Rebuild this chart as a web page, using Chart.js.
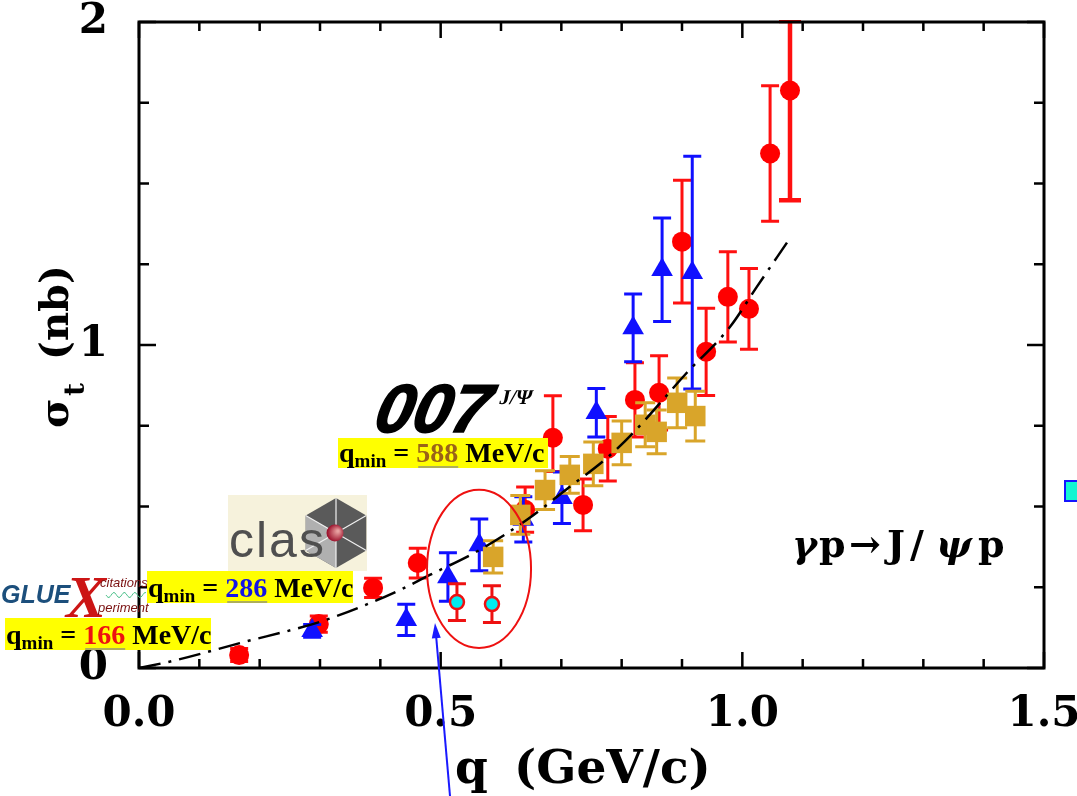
<!DOCTYPE html>
<html>
<head>
<meta charset="utf-8">
<script src="https://cdn.jsdelivr.net/npm/chart.js@4.4.0/dist/chart.umd.min.js"></script>
<style>
  html, body { margin: 0; padding: 0; background: #fff; }
  #wrap { width: 1077px; height: 796px; position: relative; }
</style>
</head>
<body>
<div id="wrap"><canvas id="chart"></canvas></div>
<script>
// values: q in GeV/c, sigma_t in nb

// GlueX (red filled circles)
var gluexQ = [0.166, 0.298, 0.388, 0.462, 0.640, 0.686, 0.736, 0.777, 0.822, 0.862, 0.900, 0.940, 0.976, 1.011, 1.046, 1.079];
var gluexS = [0.040, 0.136, 0.248, 0.325, 0.490, 0.713, 0.505, 0.679, 0.830, 0.852, 1.320, 0.979, 1.149, 1.112, 1.593, 1.788];
var gluexUp = [0.02, 0.025, 0.03, 0.046, 0.07, 0.13, 0.08, 0.10, 0.115, 0.115, 0.19, 0.135, 0.14, 0.125, 0.21, 0.215];
var gluexDn = [0.02, 0.025, 0.03, 0.046, 0.07, 0.105, 0.08, 0.10, 0.115, 0.115, 0.19, 0.135, 0.14, 0.125, 0.21, 0.34];

// CLAS (blue triangles)
var clasQ = [0.287, 0.443, 0.512, 0.564, 0.637, 0.701, 0.758, 0.819, 0.867, 0.917];
var clasS = [0.115, 0.149, 0.282, 0.381, 0.460, 0.527, 0.790, 1.053, 1.233, 1.224];
var clasErr = [0.02, 0.048, 0.075, 0.08, 0.07, 0.08, 0.075, 0.105, 0.16, 0.36];

// 007 (gold squares)
var j007Q = [0.587, 0.632, 0.673, 0.714, 0.753, 0.800, 0.839, 0.858, 0.892, 0.922];
var j007S = [0.344, 0.474, 0.551, 0.598, 0.632, 0.697, 0.753, 0.731, 0.821, 0.780];
var j007Err = [0.05, 0.06, 0.06, 0.057, 0.068, 0.068, 0.068, 0.068, 0.077, 0.077];

// open circles inside the ellipse
var openQ = [0.527, 0.585];
var openS = [0.204, 0.198];
var openErr = [0.057, 0.057];

// dash-dot curve
var fitQ = [0.0, 0.056, 0.167, 0.300, 0.383, 0.433, 0.482, 0.565, 0.643, 0.714, 0.776, 0.819, 0.908, 0.980, 1.024, 1.074];
var fitS = [0.0, 0.022, 0.077, 0.143, 0.201, 0.242, 0.288, 0.366, 0.459, 0.561, 0.651, 0.728, 0.914, 1.057, 1.180, 1.317];

// axes
var xTickVals = [0, 0.5, 1.0, 1.5];
var xTickLabels = ['0.0', '0.5', '1.0', '1.5'];
var yTickVals = [0, 1, 2];
var yTickLabels = ['0', '1', '2'];
var xMinorStep = 0.1;
var yMinorStep = 0.25;

// red ellipse (data units) and arrow
var ellipseC = { q: 0.5636, s: 0.307 };
var ellipseR = { q: 0.0862, s: 0.245 };
var arrowTip = { q: 0.4906, s: 0.139 };
var arrowTail = { q: 0.5155, s: -0.397 };

function pts(xs, ys) {
    return xs.map(function (v, i) { return { x: v, y: ys[i] }; });
}

var serif = '"DejaVu Serif", serif';

var errorBars = {
    id: 'errorBars',
    beforeDatasetDraw: function (chart, args) {
        var ds = chart.data.datasets[args.index];
        if (!ds.errUp) return;
        var xs = chart.scales.x, ys = chart.scales.y, ctx = chart.ctx, a = chart.chartArea;
        ctx.save();
        ctx.beginPath();
        ctx.rect(a.left, a.top - 2, a.right - a.left, a.bottom - a.top + 2);
        ctx.clip();
        ctx.strokeStyle = ds.barColor;
        ds.data.forEach(function (p, i) {
            var px = xs.getPixelForValue(p.x);
            var top = ys.getPixelForValue(p.y + ds.errUp[i]);
            var bot = ys.getPixelForValue(p.y - ds.errDn[i]);
            var heavy = (ds.heavyIndex === i);
            ctx.lineWidth = heavy ? 4.5 : 3;
            var cw = heavy ? 11 : ds.capHalf;
            ctx.beginPath();
            ctx.moveTo(px, top); ctx.lineTo(px, bot);
            ctx.moveTo(px - cw, top); ctx.lineTo(px + cw, top);
            ctx.moveTo(px - cw, bot); ctx.lineTo(px + cw, bot);
            ctx.stroke();
        });
        ctx.restore();
    }
};

function qminLabel(ctx, x, y, w, h, num, numColor) {
    ctx.fillStyle = '#ffff00';
    ctx.fillRect(x, y, w, h);
    var bx = x + 1, by = y + h - 6;
    ctx.textAlign = 'left';
    ctx.textBaseline = 'alphabetic';
    var big = 'bold 28px "Liberation Serif"', small = 'bold 19px "Liberation Serif"';
    ctx.fillStyle = '#000';
    ctx.font = big; ctx.fillText('q', bx, by); bx += ctx.measureText('q').width;
    ctx.font = small; ctx.fillText('min', bx, by + 5); bx += ctx.measureText('min').width;
    ctx.font = big; ctx.fillText(' = ', bx, by); bx += ctx.measureText(' = ').width;
    ctx.fillStyle = 'rgba(120,120,150,0.6)';
    ctx.fillRect(bx + 2, by + 4, ctx.measureText(num).width - 2, 2);
    ctx.fillStyle = numColor;
    ctx.fillText(num, bx, by); bx += ctx.measureText(num).width;
    ctx.fillStyle = '#000';
    ctx.fillText(' MeV/c', bx, by);
}

var decorations = {
    id: 'decorations',
    afterDatasetsDraw: function (chart) {
        var ctx = chart.ctx, a = chart.chartArea, xs = chart.scales.x, ys = chart.scales.y;
        ctx.save();

        // frame with inward ticks on all sides
        ctx.strokeStyle = '#000';
        ctx.lineWidth = 2.5;
        ctx.beginPath();
        for (var i = 0; i <= 15; i++) {
            var v = i * xMinorStep;
            var px = xs.getPixelForValue(v);
            var len = (i % 5 === 0) ? 16 : 9;
            ctx.moveTo(px, a.bottom); ctx.lineTo(px, a.bottom - len);
            ctx.moveTo(px, a.top); ctx.lineTo(px, a.top + len);
        }
        for (var j = 0; j <= 8; j++) {
            var py = ys.getPixelForValue(j * yMinorStep);
            var ylen = (j % 4 === 0) ? 17 : 10;
            ctx.moveTo(a.left, py); ctx.lineTo(a.left + ylen, py);
            ctx.moveTo(a.right, py); ctx.lineTo(a.right - ylen, py);
        }
        ctx.stroke();
        ctx.lineWidth = 3;
        ctx.strokeRect(a.left, a.top, a.right - a.left, a.bottom - a.top);

        // red ellipse
        var ex = xs.getPixelForValue(ellipseC.q), ey = ys.getPixelForValue(ellipseC.s);
        var erx = xs.getPixelForValue(ellipseC.q + ellipseR.q) - ex;
        var ery = ey - ys.getPixelForValue(ellipseC.s + ellipseR.s);
        ctx.strokeStyle = '#ee1111';
        ctx.lineWidth = 2;
        ctx.beginPath();
        ctx.ellipse(ex, ey, erx, ery, 0, 0, Math.PI * 2);
        ctx.stroke();

        // blue arrow
        var tx = xs.getPixelForValue(arrowTip.q), ty = ys.getPixelForValue(arrowTip.s);
        var sx = xs.getPixelForValue(arrowTail.q), sy = ys.getPixelForValue(arrowTail.s);
        var ang = Math.atan2(ty - sy, tx - sx);
        ctx.strokeStyle = '#1a1aff';
        ctx.fillStyle = '#1a1aff';
        ctx.lineWidth = 2;
        ctx.beginPath();
        ctx.moveTo(sx, sy); ctx.lineTo(tx - 10 * Math.cos(ang), ty - 10 * Math.sin(ang));
        ctx.stroke();
        ctx.beginPath();
        ctx.moveTo(tx, ty);
        ctx.lineTo(tx - 15 * Math.cos(ang) + 4.5 * Math.sin(ang), ty - 15 * Math.sin(ang) - 4.5 * Math.cos(ang));
        ctx.lineTo(tx - 15 * Math.cos(ang) - 4.5 * Math.sin(ang), ty - 15 * Math.sin(ang) + 4.5 * Math.cos(ang));
        ctx.closePath();
        ctx.fill();

        // axis titles
        ctx.fillStyle = '#000';
        ctx.textAlign = 'left';
        ctx.textBaseline = 'alphabetic';
        ctx.font = 'bold 47px ' + serif;
        ctx.fillText('q', 455, 783);
        ctx.fillText('(GeV/c)', 514, 783);

        ctx.save();
        ctx.translate(68, 428);
        ctx.rotate(-Math.PI / 2);
        ctx.font = 'bold 40px ' + serif;
        ctx.fillText('\u03c3', 0, 0);
        ctx.font = 'bold 28px ' + serif;
        ctx.fillText('t', 32, 16);
        ctx.font = 'bold 40px ' + serif;
        ctx.fillText('(nb)', 68, 0);
        ctx.restore();

        // reaction, glyph by glyph to match the wide spacing of the original
        var reac = [['\u03b3', 792, true], ['p', 819, false], ['\u2192', 849, false], ['J', 887, false],
                    ['/', 910, false], ['\u03c8', 936, true], ['p', 978, false]];
        reac.forEach(function (g) {
            ctx.font = (g[2] ? 'italic ' : '') + 'bold 38px ' + serif;
            ctx.fillText(g[0], g[1], 557);
        });

        // 007 label
        ctx.save();
        ctx.translate(372, 432);
        ctx.transform(1, 0, -0.22, 1, 0, 0);
        ctx.font = 'italic bold 68px "Liberation Sans"';
        ctx.lineWidth = 1.5;
        ctx.strokeStyle = '#000';
        ctx.fillText('007', 0, 0);
        ctx.strokeText('007', 0, 0);
        ctx.font = 'bold 21px "Liberation Serif"';
        ctx.fillText('J/\u03a8', 120, -28);
        ctx.restore();

        // q_min labels
        qminLabel(ctx, 338, 438, 210, 30, '588', '#9a6418');
        qminLabel(ctx, 147, 571, 206, 32, '286', '#1414e6');
        qminLabel(ctx, 5, 618, 206, 32, '166', '#ee1111');

        // CLAS logo (drawn approximation)
        ctx.fillStyle = '#f6f2dc';
        ctx.fillRect(228, 495, 139, 76);
        var hx = 336, hy = 533, hr = 35;
        ctx.beginPath();
        for (var k = 0; k < 6; k++) {
            var t = -Math.PI / 2 + k * Math.PI / 3;
            if (k === 0) ctx.moveTo(hx + hr * Math.cos(t), hy + hr * Math.sin(t));
            else ctx.lineTo(hx + hr * Math.cos(t), hy + hr * Math.sin(t));
        }
        ctx.closePath();
        ctx.fillStyle = '#5a5a5a';
        ctx.fill();
        ctx.beginPath();
        ctx.moveTo(hx, hy);
        ctx.lineTo(hx + hr * Math.cos(Math.PI / 2), hy + hr * Math.sin(Math.PI / 2));
        ctx.lineTo(hx + hr * Math.cos(5 * Math.PI / 6), hy + hr * Math.sin(5 * Math.PI / 6));
        ctx.lineTo(hx + hr * Math.cos(7 * Math.PI / 6), hy + hr * Math.sin(7 * Math.PI / 6));
        ctx.closePath();
        ctx.fillStyle = '#b0b0b0';
        ctx.fill();
        ctx.strokeStyle = '#f0f0f0';
        ctx.lineWidth = 1.2;
        ctx.beginPath();
        for (var m = 0; m < 6; m++) {
            var tt = -Math.PI / 2 + m * Math.PI / 3;
            ctx.moveTo(hx, hy); ctx.lineTo(hx + hr * Math.cos(tt), hy + hr * Math.sin(tt));
        }
        ctx.stroke();
        ctx.fillStyle = '#4f4f4f';
        ctx.font = '50px "Liberation Sans"';
        ctx.letterSpacing = '2px';
        ctx.fillText('clas', 229, 557);
        ctx.letterSpacing = '0px';
        var grd = ctx.createRadialGradient(hx + 2, hy - 2, 1, hx, hy, 9);
        grd.addColorStop(0, '#e8a0a0');
        grd.addColorStop(1, '#9a0f2a');
        ctx.fillStyle = grd;
        ctx.beginPath(); ctx.arc(hx - 1, hy, 8.5, 0, Math.PI * 2); ctx.fill();

        // GlueX logo (drawn approximation)
        ctx.font = 'italic bold 25px "Liberation Sans"';
        ctx.fillStyle = '#1c4f7c';
        ctx.fillText('GLUE', 1, 603);
        ctx.font = 'italic bold 60px "Liberation Serif"';
        ctx.fillStyle = '#cc1515';
        ctx.fillText('X', 66, 617);
        ctx.font = 'italic 13px "Liberation Sans"';
        ctx.fillStyle = '#7a1010';
        ctx.fillText('citations', 100, 587);
        ctx.fillText('periment', 98, 612);
        ctx.strokeStyle = '#4cc08a';
        ctx.lineWidth = 1;
        ctx.beginPath();
        for (var w = 0; w <= 40; w++) {
            var wx = 106 + w, wy = 595 + 2.5 * Math.sin(w * 0.6);
            if (w === 0) ctx.moveTo(wx, wy); else ctx.lineTo(wx, wy);
        }
        ctx.stroke();

        // cyan square at right edge
        ctx.fillStyle = '#14f5d2';
        ctx.strokeStyle = '#1414ff';
        ctx.lineWidth = 2;
        ctx.fillRect(1065, 481, 14, 20);
        ctx.strokeRect(1065, 481, 14, 20);

        ctx.restore();
    }
};

var ctx = document.getElementById('chart').getContext('2d');
var chart = new Chart(ctx, {
    type: 'scatter',
    data: {
        datasets: [{
            label: 'fit',
            type: 'line',
            data: pts(fitQ, fitS),
            borderColor: '#000',
            borderWidth: 2.5,
            borderDash: [22, 8, 3, 8],
            pointRadius: 0,
            fill: false,
            cubicInterpolationMode: 'monotone'
        }, {
            label: '007',
            data: pts(j007Q, j007S),
            pointStyle: 'rect',
            pointRadius: 14.5,
            backgroundColor: '#d9a52a',
            borderColor: '#d9a52a',
            borderWidth: 0,
            errUp: j007Err, errDn: j007Err, barColor: '#d9a52a', capHalf: 10
        }, {
            label: 'open',
            data: pts(openQ, openS),
            pointStyle: 'circle',
            pointRadius: 7,
            backgroundColor: '#00ecef',
            borderColor: '#ee1111',
            borderWidth: 2.5,
            errUp: openErr, errDn: openErr, barColor: '#ee1111', capHalf: 9
        }, {
            label: 'CLAS',
            data: pts(clasQ, clasS),
            pointStyle: 'triangle',
            pointRadius: 12.5,
            backgroundColor: '#1010ff',
            borderColor: '#1010ff',
            borderWidth: 0,
            errUp: clasErr, errDn: clasErr, barColor: '#1010ff', capHalf: 9
        }, {
            label: 'GlueX',
            data: pts(gluexQ, gluexS),
            pointStyle: 'circle',
            pointRadius: 10,
            backgroundColor: '#ff0000',
            borderColor: '#ff0000',
            borderWidth: 0,
            errUp: gluexUp, errDn: gluexDn, barColor: '#ff1010', capHalf: 9,
            heavyIndex: gluexQ.length - 1
        }]
    },
    options: {
        responsive: true,
        maintainAspectRatio: false,
        animation: false,
        events: [],
        layout: { padding: { top: 22, right: 33, left: 0, bottom: 0 } },
        plugins: { legend: { display: false }, tooltip: { enabled: false } },
        scales: {
            x: {
                type: 'linear',
                min: 0, max: 1.5,
                grid: { display: false, drawTicks: false },
                border: { display: false },
                afterBuildTicks: function (s) { s.ticks = xTickVals.map(function (v) { return { value: v }; }); },
                afterFit: function (s) { s.height = 128; s.paddingLeft = 0; s.paddingRight = 0; },
                ticks: {
                    padding: 22,
                    color: '#000',
                    maxRotation: 0,
                    autoSkip: false,
                    font: { family: 'DejaVu Serif', size: 42, weight: 'bold' },
                    callback: function (v) {
                        var i = xTickVals.indexOf(v);
                        return i >= 0 ? xTickLabels[i] : '';
                    }
                }
            },
            y: {
                type: 'linear',
                min: 0, max: 2,
                grid: { display: false, drawTicks: false },
                border: { display: false },
                afterBuildTicks: function (s) { s.ticks = yTickVals.map(function (v) { return { value: v }; }); },
                afterFit: function (s) { s.width = 139; s.paddingTop = 0; s.paddingBottom = 0; },
                ticks: {
                    padding: 31,
                    color: '#000',
                    autoSkip: false,
                    font: { family: 'DejaVu Serif', size: 42, weight: 'bold' },
                    callback: function (v) {
                        var i = yTickVals.indexOf(v);
                        return i >= 0 ? yTickLabels[i] : '';
                    }
                }
            }
        }
    },
    plugins: [errorBars, decorations]
});
</script>
</body>
</html>
